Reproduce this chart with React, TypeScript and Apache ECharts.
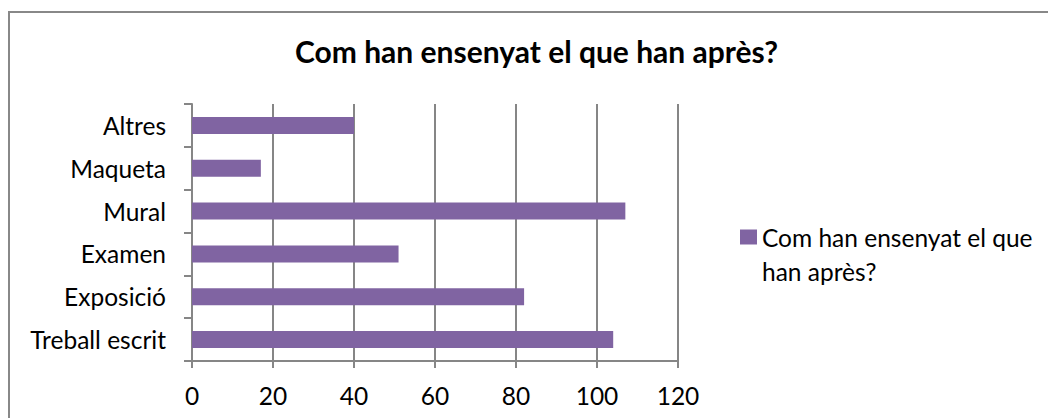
import React, { useEffect, useRef } from "react";
import * as echarts from "echarts";

const categories = ["Treball escrit", "Exposició", "Examen", "Mural", "Maqueta", "Altres"];
const values = [104, 82, 51, 107, 17, 40];
const seriesName = "Com han ensenyat el que han après?";
const legendLines = ["Com han ensenyat el que", "han après?"];
const titleText = "Com han ensenyat el que han après?";
const xTicks = { min: 0, max: 120, interval: 20 };

export default function App() {
  const ref = useRef<HTMLDivElement>(null);
  useEffect(() => {
    document.body.style.margin = "0";
    const chart = echarts.init(ref.current!, null, { renderer: "svg" });
    const font = "Lato, 'Open Sans', sans-serif";
    chart.setOption({
      animation: false,
      backgroundColor: "#ffffff",
      title: {
        text: titleText,
        left: 295,
        top: 36,
        padding: 0,
        textStyle: { fontFamily: font, fontSize: 30, fontWeight: "bold", color: "#000" },
      },
      graphic: [
        {
          type: "rect",
          shape: { x: 9, y: 12, width: 1100, height: 500 },
          style: { fill: "none", stroke: "#888888", lineWidth: 2 },
          silent: true,
        },
      ],
      legend: {
        left: 735,
        top: 181,
        orient: "vertical",
        itemWidth: 17,
        itemHeight: 15,
        icon: "rect",
        data: [seriesName],
        formatter: () => "\n" + legendLines.join("\n"),
        textStyle: {
          fontFamily: font,
          fontSize: 24.5,
          color: "#000",
          lineHeight: 34,
        },
      },
      grid: { left: 192, right: 370, top: 104, bottom: 57, containLabel: false },
      xAxis: {
        type: "value",
        min: xTicks.min,
        max: xTicks.max,
        interval: xTicks.interval,
        axisLine: { show: true, lineStyle: { color: "#868686", width: 2 } },
        axisTick: { show: true, inside: false, length: 7, lineStyle: { color: "#868686", width: 2 } },
        splitLine: { show: true, lineStyle: { color: "#868686", width: 2 } },
        axisLabel: { fontFamily: font, fontSize: 24.5, color: "#000", margin: 22 },
      },
      yAxis: {
        type: "category",
        data: categories,
        axisLine: { show: true, lineStyle: { color: "#868686", width: 2 } },
        axisTick: { show: true, length: 8, lineStyle: { color: "#868686", width: 2 } },
        axisLabel: { fontFamily: font, fontSize: 24.5, color: "#000", margin: 26 },
      },
      series: [
        {
          name: seriesName,
          type: "bar",
          data: values,
          barWidth: 17,
          itemStyle: { color: "#8064A2" },
        },
      ],
    });
    return () => chart.dispose();
  }, []);
  return <div ref={ref} style={{ width: 1048, height: 418 }} />;
}
